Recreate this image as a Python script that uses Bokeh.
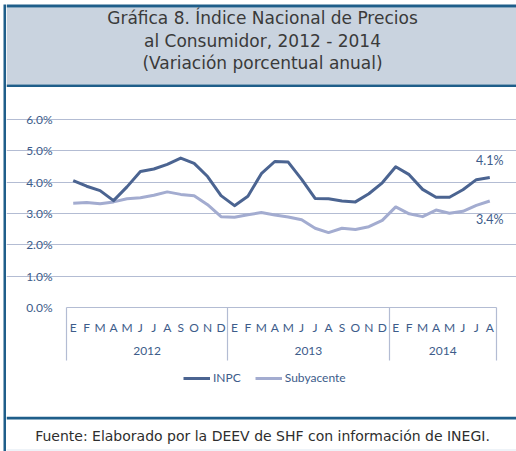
from bokeh.plotting import figure
from bokeh.models import (Range1d, FixedTicker, LinearAxis, Label, Legend, LegendItem,
                          PrintfTickFormatter, Grid)
from bokeh.layouts import row, column
from bokeh.embed import file_html
from bokeh.resources import INLINE

# ---------------- data ----------------
years = ["2012", "2013", "2014"]
months_per_year = [12, 12, 8]
month_labels = ["E", "F", "M", "A", "M", "J", "J", "A", "S", "O", "N", "D"]
inpc = [4.05, 3.87, 3.73, 3.41, 3.85, 4.34, 4.42, 4.57, 4.77, 4.60, 4.18, 3.57,
        3.25, 3.55, 4.27, 4.66, 4.64, 4.09, 3.48, 3.47, 3.40, 3.37, 3.63, 3.98,
        4.49, 4.24, 3.77, 3.52, 3.52, 3.76, 4.08, 4.15]
subyacente = [3.33, 3.35, 3.31, 3.37, 3.47, 3.50, 3.58, 3.69, 3.61, 3.57, 3.28, 2.90,
              2.88, 2.96, 3.03, 2.95, 2.89, 2.80, 2.53, 2.39, 2.53, 2.49, 2.58, 2.78,
              3.21, 2.99, 2.90, 3.11, 3.01, 3.07, 3.26, 3.40]
y_ticks = [0, 1, 2, 3, 4, 5, 6]
end_labels = ["4.1%", "3.4%"]
title_lines = ["Gráfica 8. Índice Nacional de Precios",
               "al Consumidor, 2012 - 2014",
               "(Variación porcentual anual)"]
footer_text = "Fuente: Elaborado por la DEEV de SHF con información de INEGI."

# ---------------- styles / layout constants ----------------
DARK = "#1f5e8a"
TITLE_BG = "#c9d3df"
C_INPC = "#4b6491"
C_SUB = "#a3acd0"
GRID = "#b3bcd3"
TXT = "#3d5c8a"
FONT = "Lato"
TFONT = "DejaVu Sans"

W = 510          # width of the content column
H_TITLE, H_MAIN, H_FOOT = 87, 329, 35
LEFT_PAD, DATA_W = 60, 430     # pixels left of the first month, pixel width of all months
TOP_PAD = 32                   # pixels above the 6 % line inside the main figure
PLOT_H = 188                   # pixel height of the 0..6 % band
Y_MAX = 6

# ---------------- derived positions ----------------
n = len(inpc)
x = [i + 0.5 for i in range(n)]
all_month_labels = []
for m in months_per_year:
    all_month_labels += month_labels[:m]
bounds = [0]
for m in months_per_year:
    bounds.append(bounds[-1] + m)
year_centers = [(bounds[i] + bounds[i + 1]) / 2 for i in range(len(years))]
px_per_month = DATA_W / n
x_start = -LEFT_PAD / px_per_month
x_end = (W - LEFT_PAD) / px_per_month
px_per_unit = PLOT_H / Y_MAX
y_top = Y_MAX + TOP_PAD / px_per_unit
y_min = -(H_MAIN - TOP_PAD - PLOT_H) / px_per_unit


def blank(fig):
    fig.outline_line_color = None
    fig.min_border = 0
    return fig


# ---------------- title panel ----------------
tp = figure(width=W, height=H_TITLE, x_range=Range1d(0, W), y_range=Range1d(H_TITLE, 0),
            output_backend="svg", toolbar_location=None, x_axis_type=None, y_axis_type=None,
            min_border=0)
blank(tp)
tp.quad(left=[0], right=[W], top=[7], bottom=[84], fill_color=TITLE_BG, line_color=None)
tp.quad(left=[0, 0], right=[W, W], top=[4, 84], bottom=[7, 87], fill_color=DARK, line_color=None)
for i, t in enumerate(title_lines):
    tp.add_layout(Label(x=256, y=17.5 + 22.5 * i, text=t, text_align="center", text_baseline="middle",
                        text_font=TFONT, text_font_size="17px", text_color="#3a3a3a"))

# ---------------- main chart ----------------
p = figure(width=W, height=H_MAIN, x_range=Range1d(x_start, x_end),
           y_range=Range1d(y_min, y_top),
           output_backend="svg", toolbar_location=None, x_axis_type=None, y_axis_type=None,
           min_border=0)
p.outline_line_color = None

yax = LinearAxis(ticker=FixedTicker(ticks=y_ticks), formatter=PrintfTickFormatter(format="%.1f%%"),
                 fixed_location=0)
yax.axis_line_color = None
yax.major_tick_line_color = None
yax.minor_tick_line_color = None
yax.major_tick_out = 0
yax.major_label_standoff = 14
yax.major_label_text_font = FONT
yax.major_label_text_font_size = "12px"
yax.major_label_text_color = TXT
p.add_layout(yax, "left")

p.add_layout(Grid(dimension=1, ticker=FixedTicker(ticks=y_ticks[1:]), grid_line_color=GRID,
                  grid_line_width=1.2, bounds=(0, n)))

# month axis (drawn at y = 0)
xa = LinearAxis(ticker=FixedTicker(ticks=x), bounds=(0, n), fixed_location=0,
                major_label_overrides={xi: lab for xi, lab in zip(x, all_month_labels)})
xa.axis_line_color = GRID
xa.axis_line_width = 1.2
xa.major_tick_line_color = None
xa.minor_tick_line_color = None
xa.major_tick_out = 0
xa.major_label_standoff = 12
xa.major_label_text_font = FONT
xa.major_label_text_font_size = "12px"
xa.major_label_text_color = TXT
p.add_layout(xa, "below")

# year axis (drawn at y = 0, labels further down)
xb = LinearAxis(ticker=FixedTicker(ticks=year_centers), fixed_location=0,
                major_label_overrides={c: y for c, y in zip(year_centers, years)})
xb.axis_line_color = None
xb.major_tick_line_color = None
xb.minor_tick_line_color = None
xb.major_tick_out = 0
xb.major_label_standoff = 39
xb.major_label_text_font = FONT
xb.major_label_text_font_size = "12px"
xb.major_label_text_color = TXT
p.add_layout(xb, "below")

# year separators (minor ticks at the group boundaries)
xc = LinearAxis(ticker=FixedTicker(ticks=[], minor_ticks=bounds), fixed_location=0)
xc.axis_line_color = None
xc.major_tick_line_color = None
xc.minor_tick_line_color = GRID
xc.minor_tick_line_width = 1.2
xc.minor_tick_in = 0
xc.minor_tick_out = 53
xc.major_label_text_font_size = "0px"
p.add_layout(xc, "below")

r_sub = p.line(x, subyacente, line_color=C_SUB, line_width=3, line_join="round")
r_inpc = p.line(x, inpc, line_color=C_INPC, line_width=3, line_join="round")

p.add_layout(Label(x=x[-1], y=inpc[-1], y_offset=17, text=end_labels[0], text_align="center",
                   text_baseline="middle", text_font=FONT, text_font_size="12.5px", text_color=TXT))
p.add_layout(Label(x=x[-1], y=subyacente[-1], y_offset=-19, text=end_labels[1], text_align="center",
                   text_baseline="middle", text_font=FONT, text_font_size="12.5px", text_color=TXT))

legend = Legend(items=[LegendItem(label="INPC", renderers=[r_inpc]),
                       LegendItem(label="Subyacente", renderers=[r_sub])],
                orientation="horizontal", location=(LEFT_PAD + 117, 31))
legend.background_fill_alpha = 0
legend.border_line_color = None
legend.padding = 0
legend.margin = 0
legend.spacing = 14
legend.glyph_width = 27
legend.glyph_height = 12
legend.label_height = 12
legend.label_standoff = 3
legend.label_text_font = FONT
legend.label_text_font_size = "12px"
legend.label_text_color = TXT
p.add_layout(legend)

# ---------------- footer ----------------
fp = figure(width=W, height=H_FOOT, x_range=Range1d(0, W), y_range=Range1d(H_FOOT, 0),
            output_backend="svg", toolbar_location=None, x_axis_type=None, y_axis_type=None,
            min_border=0)
blank(fp)
fp.quad(left=[0], right=[W], top=[0], bottom=[3], fill_color=DARK, line_color=None)
fp.quad(left=[0], right=[W], top=[33], bottom=[34], fill_color="#dde7f1", line_color=None)
fp.add_layout(Label(x=256, y=19, text=footer_text, text_align="center", text_baseline="middle",
                    text_font=TFONT, text_font_size="14px", text_color="#2e2e2e"))

# ---------------- left border ----------------
HT = H_TITLE + H_MAIN + H_FOOT
bp = figure(width=6, height=HT, x_range=Range1d(0, 6), y_range=Range1d(HT, 0),
            output_backend="svg", toolbar_location=None, x_axis_type=None, y_axis_type=None,
            min_border=0)
blank(bp)
bp.quad(left=[3], right=[6], top=[4], bottom=[HT], fill_color=DARK, line_color=None)

layout = row(bp, column(tp, p, fp, spacing=0), spacing=0)

open("out.html", "w").write(file_html(layout, INLINE))
